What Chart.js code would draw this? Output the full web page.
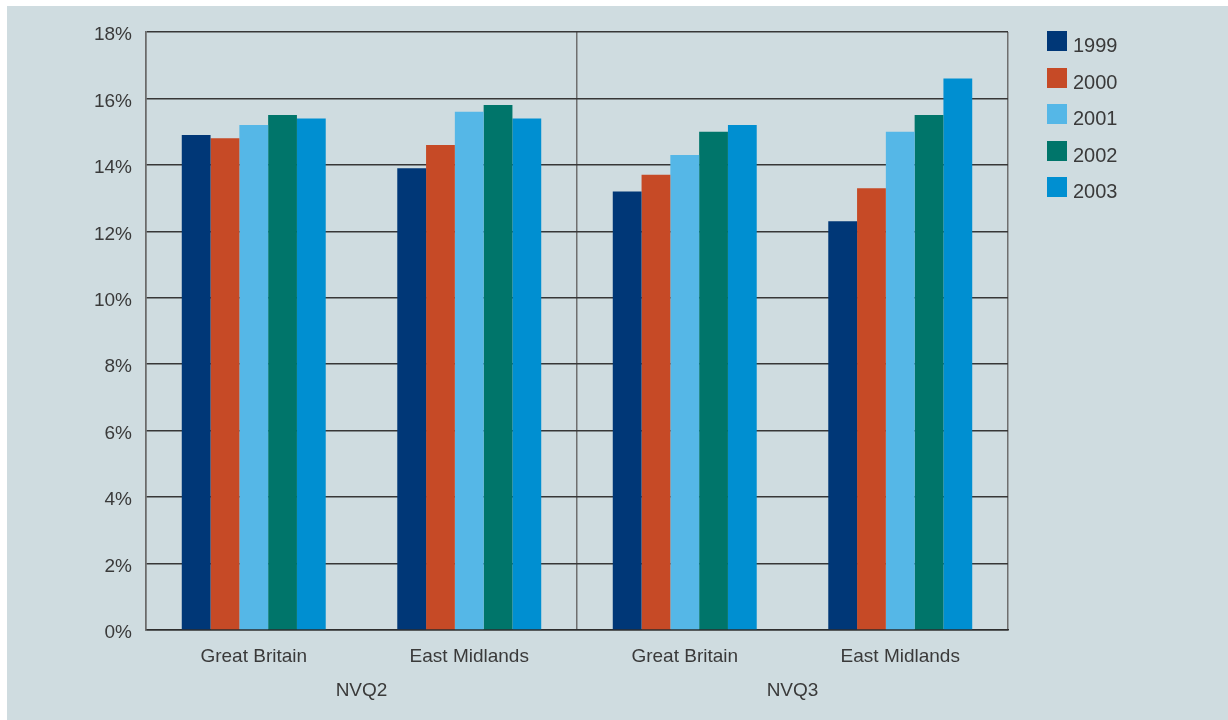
<!DOCTYPE html>
<html>
<head>
<meta charset="utf-8">
<script src="https://cdn.jsdelivr.net/npm/chart.js@4.4.1/dist/chart.umd.min.js"></script>
<style>
  html, body { margin: 0; padding: 0; background: #ffffff; }
  body { width: 1228px; height: 720px; position: relative; overflow: hidden; font-family: "Liberation Sans", Arial, Helvetica, sans-serif; }
  #panel { position: absolute; left: 7px; top: 6px; width: 1221px; height: 714px; background: #cfdce0; }
  #wrap { position: absolute; left: 0; top: 0; width: 1228px; height: 720px; }
  #legend { position: absolute; left: 1047px; top: 31px; margin: 0; padding: 0; list-style: none; }
  #legend li { height: 36.5px; position: relative; }
  #legend .sw { position: absolute; left: 0; top: 0; width: 20px; height: 20px; }
  #legend .tx { position: absolute; left: 26px; top: 2px; font-size: 20px; line-height: 24px; color: #3a3a3a; }
</style>
</head>
<body>
<div id="panel"></div>
<div id="wrap"><canvas id="c" width="1228" height="720"></canvas></div>
<ul id="legend"></ul>
<script>
// Regions shown for each qualification level
const categories = ['Great Britain', 'East Midlands', 'Great Britain', 'East Midlands'];
const groups = ['NVQ2', 'NVQ3'];

// Share of population (%) per year: NVQ2 GB, NVQ2 EM, NVQ3 GB, NVQ3 EM
const years = ['1999', '2000', '2001', '2002', '2003'];
const y1999 = [14.9, 13.9, 13.2, 12.3];
const y2000 = [14.8, 14.6, 13.7, 13.3];
const y2001 = [15.2, 15.6, 14.3, 15.0];
const y2002 = [15.5, 15.8, 15.0, 15.5];
const y2003 = [15.4, 15.4, 15.2, 16.6];

const yTicks = [0, 2, 4, 6, 8, 10, 12, 14, 16, 18];

const colors = ['#003777', '#c64a26', '#55b7e7', '#00756a', '#008fd1'];
const seriesValues = [y1999, y2000, y2001, y2002, y2003];

const FONT = '"Liberation Sans", Arial, Helvetica, sans-serif';
const TEXT = '#3a3a3a';

const datasets = years.map((yr, i) => ({
  label: yr,
  data: seriesValues[i],
  backgroundColor: colors[i],
  borderWidth: 0,
  xAxisID: 'x',
  categoryPercentage: 0.668,
  barPercentage: 1.0
}));

new Chart(document.getElementById('c'), {
  type: 'bar',
  data: { labels: categories, datasets },
  options: {
    responsive: false,
    animation: false,
    layout: { padding: { left: 86, right: 220, top: 32, bottom: 0 } },
    plugins: { legend: { display: false }, tooltip: { enabled: false } },
    scales: {
      x: {
        type: 'category',
        position: 'bottom',
        weight: 0,
        afterFit: s => { s.height = 45; },
        grid: { display: false, drawTicks: false },
        border: { display: true, color: '#2e2e2e', width: 1.5 },
        ticks: { padding: 15, color: TEXT, font: { family: FONT, size: 19 }, maxRotation: 0 }
      },
      x2: {
        type: 'category',
        labels: groups,
        position: 'bottom',
        weight: 1,
        offset: true,
        afterFit: s => { s.height = 45; },
        grid: { display: true, offset: true, drawTicks: false, drawOnChartArea: true, color: '#6f6f6f', lineWidth: 1.5 },
        border: { display: false },
        ticks: { padding: 4, color: TEXT, font: { family: FONT, size: 19 }, maxRotation: 0 }
      },
      y: {
        min: 0,
        max: 18,
        afterFit: s => { s.width = 60; },
        afterBuildTicks: s => { s.ticks = yTicks.map(v => ({ value: v })); },
        grid: { color: '#373737', lineWidth: 1.5, drawTicks: false },
        border: { display: true, color: '#6a6a6a', width: 1.5 },
        ticks: { padding: 14, labelOffset: 3, color: TEXT, font: { family: FONT, size: 19 }, callback: v => v + '%' }
      }
    }
  }
});

// Legend built from the same series names and colours
const legend = document.getElementById('legend');
years.forEach((yr, i) => {
  const li = document.createElement('li');
  const sw = document.createElement('span');
  sw.className = 'sw';
  sw.style.background = colors[i];
  const tx = document.createElement('span');
  tx.className = 'tx';
  tx.textContent = yr;
  li.appendChild(sw);
  li.appendChild(tx);
  legend.appendChild(li);
});
</script>
</body>
</html>
